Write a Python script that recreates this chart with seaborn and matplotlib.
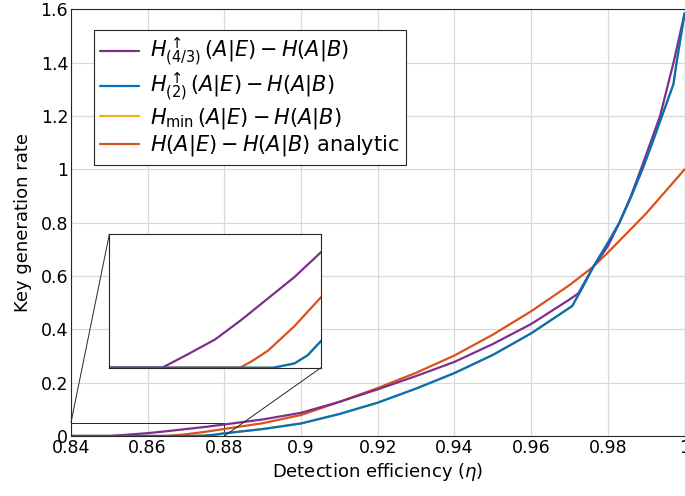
import matplotlib
matplotlib.use("Agg")
import matplotlib.pyplot as plt
import seaborn as sns
import numpy as np
from matplotlib.ticker import FuncFormatter
from mpl_toolkits.axes_grid1.inset_locator import mark_inset

# ---- data ----
eta_43 = [0.84, 0.85, 0.855, 0.86, 0.865, 0.87, 0.875, 0.88, 0.89, 0.90, 0.91, 0.92,
          0.93, 0.94, 0.95, 0.96, 0.97, 0.9723, 0.976, 0.98, 0.983, 0.986, 0.9886,
          0.9911, 0.9936, 0.9957, 0.9971, 1.0]
rate_43 = [0, 0, 0.0052, 0.0106, 0.018, 0.026, 0.034, 0.0433, 0.062, 0.087, 0.128, 0.175,
           0.225, 0.278, 0.345, 0.42, 0.512, 0.535, 0.63, 0.712, 0.80, 0.90, 1.0,
           1.1, 1.2, 1.32, 1.4, 1.585]

eta_2 = [0.84, 0.871, 0.875, 0.8775, 0.88, 0.89, 0.90, 0.91, 0.92, 0.93, 0.94, 0.95,
         0.96, 0.9707, 0.9735, 0.9762, 0.98, 0.983, 0.986, 0.989, 0.9916, 0.9941,
         0.9971, 0.9979, 1.0]
rate_2 = [0, 0, 0.0016, 0.0047, 0.010, 0.026, 0.047, 0.0825, 0.125, 0.178, 0.236, 0.304,
          0.385, 0.4875, 0.56, 0.635, 0.725, 0.80, 0.895, 1.0, 1.1, 1.2,
          1.32, 1.4, 1.585]

eta_min = eta_2
rate_min = rate_2

eta_an = [0.84, 0.8647, 0.867, 0.87, 0.875, 0.88, 0.89, 0.90, 0.91, 0.92, 0.93, 0.94,
          0.95, 0.96, 0.97, 0.976, 0.98, 0.99, 1.0]
rate_an = [0, 0, 0.0025, 0.0064, 0.0156, 0.0264, 0.048, 0.0787, 0.128, 0.18, 0.237, 0.302,
           0.38, 0.468, 0.566, 0.633, 0.688, 0.835, 1.0]

labels = [r"$H^{\uparrow}_{(4/3)}\,(A|E) - H(A|B)$",
          r"$H^{\uparrow}_{(2)}\,(A|E) - H(A|B)$",
          r"$H_{\mathrm{min}}\,(A|E) - H(A|B)$",
          r"$H(A|E) - H(A|B)$ analytic"]
colors = ["#7E2F8E", "#0072BD", "#EDB120", "#D95319"]

xticks = [0.84, 0.86, 0.88, 0.90, 0.92, 0.94, 0.96, 0.98, 1.0]
yticks = [0, 0.2, 0.4, 0.6, 0.8, 1.0, 1.2, 1.4, 1.6]

# ---- style ----
sns.set_style("whitegrid")
plt.rcParams["font.family"] = ["DejaVu Sans"]
plt.rcParams["mathtext.fontset"] = "dejavusans"
plt.rcParams["text.color"] = "black"
plt.rcParams["axes.labelcolor"] = "black"
plt.rcParams["xtick.color"] = "black"
plt.rcParams["ytick.color"] = "black"

fig = plt.figure(figsize=(6.85, 4.96), dpi=100)
ax = fig.add_axes([0.1036, 0.121, 0.8958, 0.860])

series = [(eta_43, rate_43), (eta_2, rate_2), (eta_min, rate_min), (eta_an, rate_an)]
order = [2, 3, 0, 1]  # draw yellow first (hidden under blue)
for i in order:
    ex, ry = series[i]
    sns.lineplot(x=ex, y=ry, ax=ax, color=colors[i], lw=1.6, label=labels[i],
                 estimator=None, sort=False)

ax.set_xlim(0.84, 1.0)
ax.set_ylim(0, 1.6)
ax.set_xticks(xticks)
ax.set_yticks(yticks)
fmt = FuncFormatter(lambda v, p: ("%g" % round(v, 3)))
ax.xaxis.set_major_formatter(fmt)
ax.yaxis.set_major_formatter(fmt)
ax.tick_params(labelsize=12.5, direction="in", length=3, color="#333333",
               labelcolor="black", pad=2)
ax.grid(True, color="#d9d9d9", lw=0.9)
for s in ax.spines.values():
    s.set_color("#262626")
    s.set_linewidth(0.8)
ax.set_xlabel(r"Detection efficiency ($\eta$)", fontsize=13, labelpad=3, color="black")
ax.set_ylabel("Key generation rate", fontsize=13, labelpad=6, color="black")

# legend in original order
handles, labs = ax.get_legend_handles_labels()
hmap = dict(zip(labs, handles))
leg = ax.legend([hmap[l] for l in labels], labels, loc="upper left",
                bbox_to_anchor=(0.02, 0.977), fontsize=15, frameon=True,
                fancybox=False, edgecolor="#262626", framealpha=1,
                handlelength=1.9, handletextpad=0.5, borderpad=0.3,
                labelspacing=0.12)
leg.get_frame().set_linewidth(0.8)
for t in leg.get_texts():
    t.set_color("black")

# ---- inset ----
axins = fig.add_axes([0.1596, 0.2587, 0.3090, 0.2689])
for i in order:
    ex, ry = series[i]
    sns.lineplot(x=ex, y=ry, ax=axins, color=colors[i], lw=1.6,
                 estimator=None, sort=False, legend=False)
axins.set_xlim(0.84, 0.88)
axins.set_ylim(0, 0.05)
axins.set_xticks([])
axins.set_yticks([])
axins.set_xlabel("")
axins.set_ylabel("")
axins.grid(False)
axins.set_facecolor("white")
for s in axins.spines.values():
    s.set_color("#262626")
    s.set_linewidth(0.8)
mark_inset(ax, axins, loc1=2, loc2=4, fc="none", ec="#262626", lw=0.7)

fig.savefig("out.png", dpi=100)
